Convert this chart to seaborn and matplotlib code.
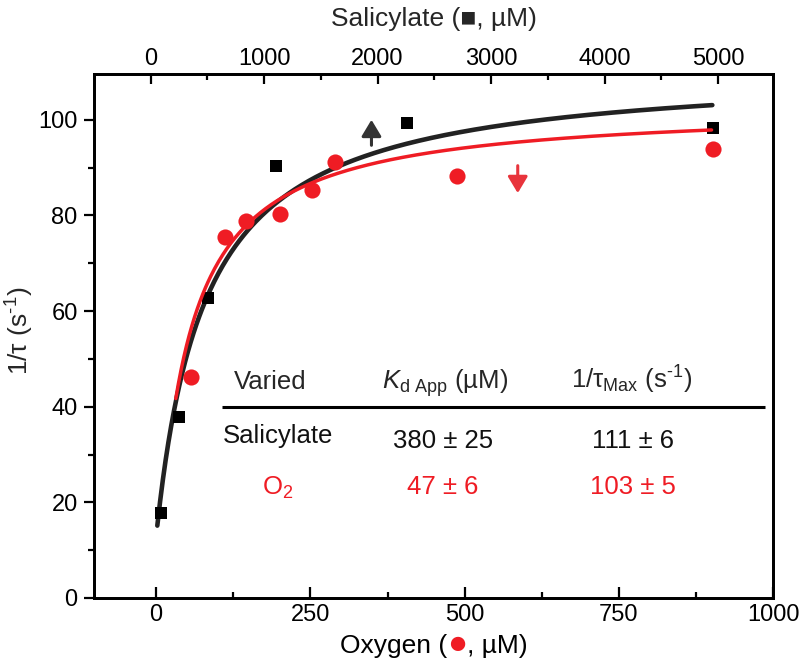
import numpy as np
import matplotlib
matplotlib.use("Agg")
import matplotlib.pyplot as plt
import seaborn as sns
from matplotlib.ticker import MultipleLocator
from matplotlib.offsetbox import TextArea, HPacker, AnchoredOffsetbox

# Data
sal_conc = [92, 251, 507, 1106, 2257, 4953]          # salicylate, uM (top axis)
sal_rate = [17.8, 37.9, 62.8, 90.4, 99.3, 98.3]      # 1/tau, s^-1
oxy_conc = [57, 111, 146, 201, 253, 290, 488, 902]   # oxygen, uM (bottom axis)
oxy_rate = [46.3, 75.6, 78.9, 80.3, 85.4, 91.1, 88.3, 93.9]

# Hyperbolic fit results (from the inset table)
varied = ["Salicylate", "O$_2$"]
kd_app = [380, 47]
kd_err = [25, 6]
tau_max = [111, 103]
tau_err = [6, 5]
fit_range = [(60, 4950), (32, 900)]

RED = "#ef1c24"
BLACK = "#111111"

sns.set_theme(style="ticks")
plt.rcParams["font.family"] = ["Liberation Sans", "DejaVu Sans"]
plt.rcParams.update({
    "mathtext.fontset": "custom",
    "mathtext.rm": "Liberation Sans",
    "mathtext.it": "Liberation Sans:italic",
    "mathtext.bf": "Liberation Sans:bold",
    "axes.edgecolor": "black",
    "axes.linewidth": 2,
    "xtick.color": "black",
    "ytick.color": "black",
})

TICK_FS = 17
LABEL_FS = 19
TABLE_FS = 18.5

fig = plt.figure(figsize=(8, 6.64), dpi=100)
fig.patch.set_facecolor("white")
ax = fig.add_axes([0.1179, 0.0994, 0.8487, 0.7892])
ax2 = ax.twiny()

# salicylate series on the top axis
s_fit = np.linspace(*fit_range[0], 400)
sns.lineplot(x=s_fit, y=tau_max[0] * s_fit / (kd_app[0] + s_fit), ax=ax2,
             color="#222222", lw=3.3, zorder=2)
sns.scatterplot(x=sal_conc, y=sal_rate, ax=ax2, marker="s", s=78,
                color="black", linewidth=0, zorder=3)

# oxygen series on the bottom axis
o_fit = np.linspace(*fit_range[1], 400)
sns.lineplot(x=o_fit, y=tau_max[1] * o_fit / (kd_app[1] + o_fit), ax=ax,
             color=RED, lw=2.5, zorder=2)
sns.scatterplot(x=oxy_conc, y=oxy_rate, ax=ax, marker="o", s=135,
                color=RED, linewidth=0, zorder=3)

# keep the red layer on top
ax.set_zorder(ax2.get_zorder() + 1)
ax.patch.set_visible(False)

ax.set_xlim(-100, 1000)
ax.set_ylim(0, 109.6)
ax2.set_xlim(-495, 5487)

ax.xaxis.set_major_locator(MultipleLocator(250))
ax.xaxis.set_minor_locator(MultipleLocator(125))
ax.yaxis.set_major_locator(MultipleLocator(20))
ax.yaxis.set_minor_locator(MultipleLocator(10))
ax2.xaxis.set_major_locator(MultipleLocator(1000))
ax2.xaxis.set_minor_locator(MultipleLocator(500))

ax.tick_params(axis="x", which="both", direction="in", bottom=True, top=False,
               labelsize=TICK_FS, pad=4, width=1.6)
ax.tick_params(axis="x", which="major", length=8)
ax.tick_params(axis="x", which="minor", length=4)
ax.tick_params(axis="y", which="both", direction="out", left=True, right=False,
               labelsize=TICK_FS, pad=5, width=1.6)
ax.tick_params(axis="y", which="major", length=7)
ax.tick_params(axis="y", which="minor", length=4)
ax2.tick_params(axis="x", which="both", direction="in", top=True, bottom=False,
                labelsize=TICK_FS, pad=2.5, width=1.6)
ax2.tick_params(axis="x", which="major", length=7)
ax2.tick_params(axis="x", which="minor", length=4)

for a in (ax, ax2):
    for sp in a.spines.values():
        sp.set_linewidth(2)
        sp.set_color("black")

# axis labels
ax.set_xlabel("")
ax.set_ylabel("1/τ (s$^{\\text{-1}}$)", fontsize=LABEL_FS)
ax.yaxis.label.set_ha("center")
ax.yaxis.label.set_va("center")
ax.yaxis.set_label_coords(-0.109, 0.51)
ax2.set_xlabel("Salicylate (■, µM)", fontsize=LABEL_FS)
ax2.xaxis.set_label_coords(0.5, 1.105)
ax2.xaxis.label.set_va("center")

fam = ["Liberation Sans", "DejaVu Sans"]
parts = [("Oxygen (", "black", LABEL_FS), ("●", RED, 24), (", µM)", "black", LABEL_FS)]
box = HPacker(children=[TextArea(t, textprops=dict(fontsize=fs, color=c, family=fam))
                        for t, c, fs in parts], align="baseline", pad=0, sep=0)
ax.add_artist(AnchoredOffsetbox(loc="center", child=box, pad=0, borderpad=0, frameon=False,
                                bbox_to_anchor=(0.5, -0.088), bbox_transform=ax.transAxes))

# arrows marking which curve belongs to which axis
ax.annotate("", xy=(349, 100.6), xytext=(349, 94.1),
            arrowprops=dict(arrowstyle="-|>,head_length=0.5,head_width=0.3",
                            mutation_scale=20, lw=2.2, color="#333333"))
ax.annotate("", xy=(586, 84.1), xytext=(586, 91.0),
            arrowprops=dict(arrowstyle="-|>,head_length=0.5,head_width=0.3",
                            mutation_scale=20, lw=2.2, color="#e8343c"))

# inset table
col_x = [197, 465, 772]
header_y = 43.7
row_y = [[32.4, 31.4, 31.4], [21.6, 21.8, 21.8]]
row_color = [BLACK, RED]
ax.text(185, header_y, "Varied", fontsize=TABLE_FS, ha="center", va="baseline")
ax.text(469, header_y, "$K$$_{\\rm d\\ App}$ (µM)", fontsize=TABLE_FS, ha="center", va="baseline")
ax.text(770, header_y, "1/τ$_{\\rm Max}$ (s$^{\\text{-1}}$)", fontsize=TABLE_FS,
        ha="center", va="baseline")
ax.hlines(40.0, 107, 987, color="black", lw=2.2)
for i in range(len(varied)):
    cells = [varied[i], f"{kd_app[i]} ± {kd_err[i]}", f"{tau_max[i]} ± {tau_err[i]}"]
    for j, cell in enumerate(cells):
        ax.text(col_x[j], row_y[i][j], cell, fontsize=TABLE_FS, ha="center",
                va="baseline", color=row_color[i])

fig.savefig("out.png", dpi=100, facecolor="white")
